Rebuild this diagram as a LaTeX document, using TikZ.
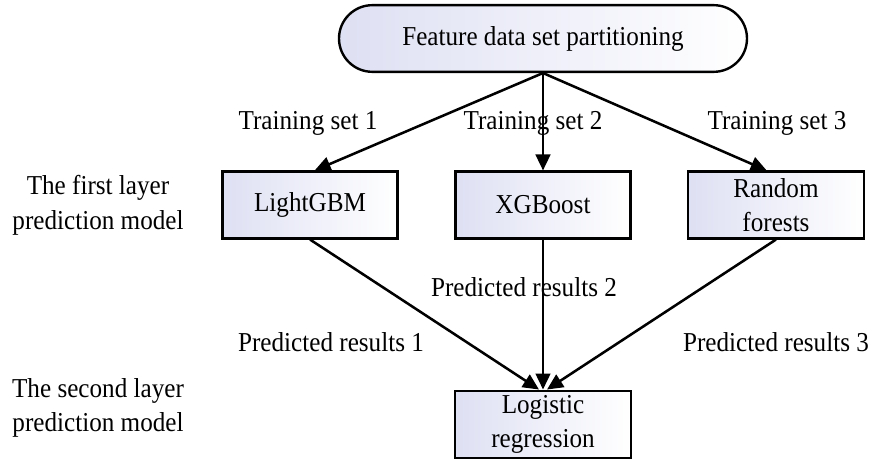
\documentclass[tikz,border=0pt]{standalone}
\usepackage{fontspec}
\setmainfont[FakeStretch=0.92]{Liberation Serif}
\usepackage{tikz}
\usepackage{xcolor}
\usetikzlibrary{shapes.misc, arrows.meta, positioning, calc}
\definecolor{cLav}{RGB}{222,224,243}
\tikzset{
	termbox/.style={rectangle, rounded corners=25pt, draw=black, line width=1.8pt, minimum width=306pt, minimum height=50pt, align=center, left color=cLav, right color=white},
	modelbox/.style={rectangle, draw=black, line width=1.8pt, minimum width=131pt, minimum height=50pt, align=center, left color=cLav, right color=white},
	lbl/.style={align=center, inner sep=0pt},
	flowarrow/.style={-{Triangle[length=12pt, width=11pt]}, line width=1.9pt},
}

\begin{document}
\begin{tikzpicture}[x=0.75pt, y=-0.75pt, font=\fontsize{20.5}{26}\selectfont]
	\useasboundingbox (0,0) rectangle (875,459);
	\node[termbox] (part) at (543,38.5) {Feature data set partitioning};
	% first layer models
	\node[modelbox] (lgbm) at (310,205) {LightGBM};
	\node[modelbox] (xgb)  at (543,205) {XGBoost};
	\node[modelbox, minimum width=132pt] (rf) at (776,205) {Random\\forests};
	% second layer model
	\node[modelbox, minimum width=132pt] (lr) at (543,424.5) {Logistic\\regression};
	\node[lbl] (layer1) at (98,205) {The first layer\\prediction model};
	\node[lbl] (layer2) at (98,408) {The second layer\\prediction model};
	\draw[flowarrow] (part.south) -- ([xshift=3.5pt]lgbm.north);
	\draw[flowarrow] (part.south) -- (xgb.north);
	\draw[flowarrow] (part.south) -- ([xshift=-7pt]rf.north);
	\draw[flowarrow] (lgbm.south) -- ([xshift=-3pt]lr.north);
	\draw[flowarrow] (rf.south) -- ([xshift=3pt]lr.north);
	\draw[flowarrow] (xgb.south) -- (lr.north);
	\node[lbl] (ts1) at (308,123) {Training set 1};
	\node[lbl] (ts2) at (533,123) {Training set 2};
	\node[lbl] (ts3) at (777,123) {Training set 3};
	\node[lbl] (pr1) at (331,342) {Predicted results 1};
	\node[lbl] (pr2) at (524,287) {Predicted results 2};
	\node[lbl] (pr3) at (776,342) {Predicted results 3};
\end{tikzpicture}
\end{document}
